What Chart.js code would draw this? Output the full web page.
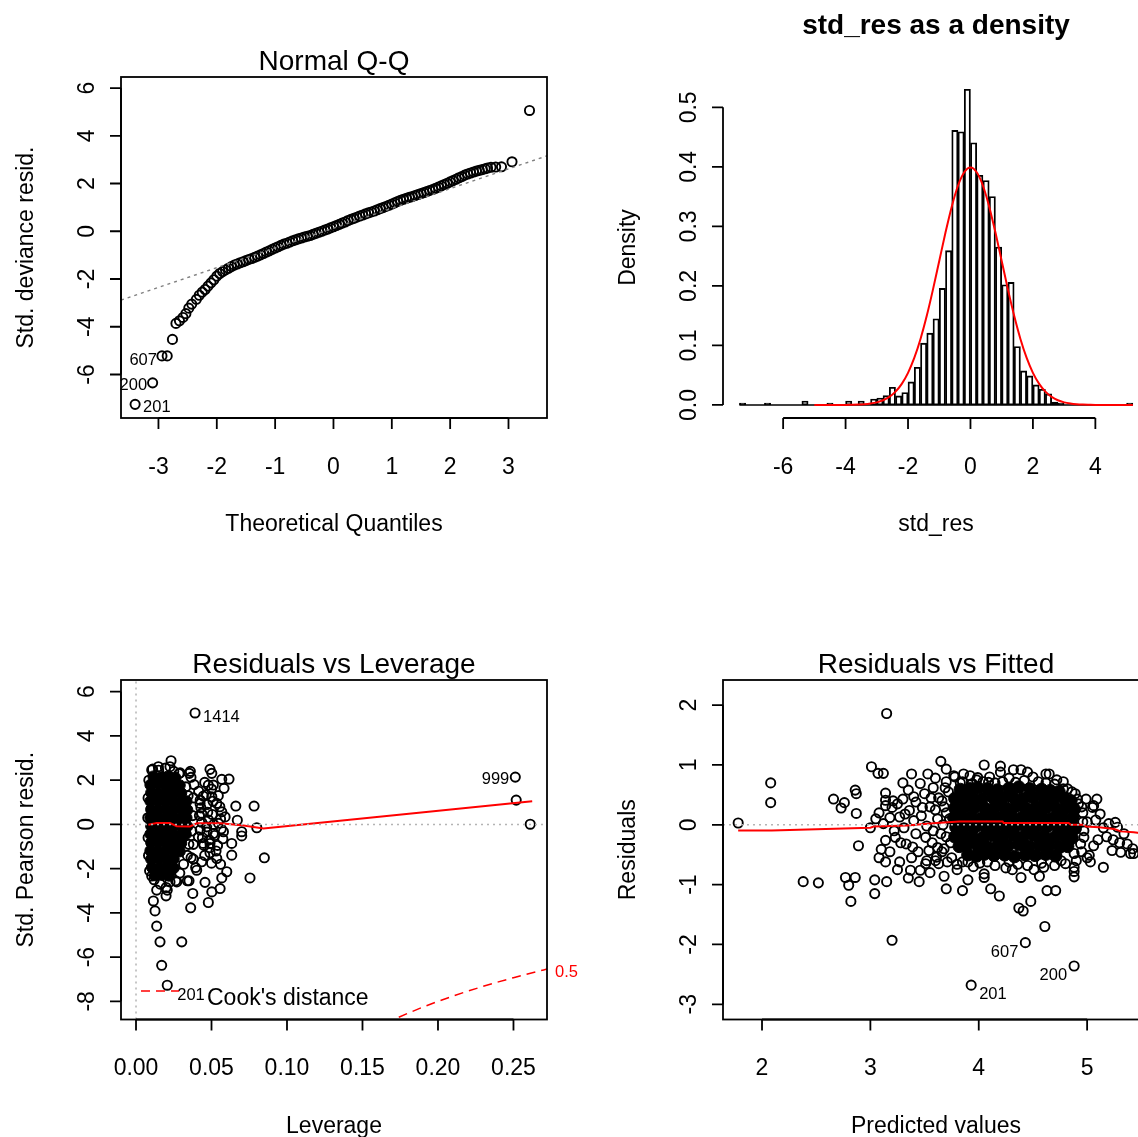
<!DOCTYPE html>
<html><head><meta charset="utf-8">
<script src="https://cdn.jsdelivr.net/npm/chart.js@4.4.1/dist/chart.umd.min.js"></script>
<style>
html,body{margin:0;padding:0;background:#fff;overflow:hidden;width:1138px;height:1137px;position:relative;}
canvas{position:absolute;display:block;}
</style></head><body>
<canvas id="c1" width="602" height="603" style="left:0;top:0"></canvas>
<canvas id="c2" width="602" height="603" style="left:602px;top:0"></canvas>
<canvas id="c3" width="602" height="604" style="left:0;top:603px"></canvas>
<canvas id="c4" width="602" height="604" style="left:602px;top:603px"></canvas>
<script>
// ================= DATA =================
// Panel 1: Normal Q-Q  [theoretical quantile, std. deviance resid.]
const qqPoints = [
[-3.40,-7.25],[-3.10,-6.35],[-2.94,-5.22],[-2.85,-5.22],[-2.76,-4.53],[-2.70,-3.86],[-2.64,-3.75],[-2.58,-3.61],[-2.53,-3.45],[-2.48,-3.22],[-2.43,-3.05],
[-2.35,-2.85],[-2.30,-2.68],[-2.25,-2.55],[-2.20,-2.44],[-2.15,-2.30],[-2.10,-2.16],[-2.05,-2.03],[-2.00,-1.88],[-1.95,-1.77],[-1.90,-1.69],
[-1.85,-1.62],[-1.80,-1.55],[-1.75,-1.48],[-1.70,-1.42],[-1.65,-1.37],[-1.60,-1.32],[-1.55,-1.28],[-1.50,-1.23],[-1.45,-1.18],[-1.40,-1.14],
[-1.35,-1.09],[-1.30,-1.04],[-1.25,-0.99],[-1.20,-0.93],[-1.15,-0.87],[-1.10,-0.82],[-1.05,-0.76],[-1.00,-0.70],[-0.95,-0.65],[-0.90,-0.59],
[-0.85,-0.54],[-0.80,-0.50],[-0.75,-0.45],[-0.70,-0.40],[-0.65,-0.36],[-0.60,-0.32],[-0.55,-0.28],[-0.50,-0.24],[-0.45,-0.21],[-0.40,-0.18],
[-0.35,-0.13],[-0.30,-0.09],[-0.25,-0.04],[-0.20,0.00],[-0.15,0.05],[-0.10,0.09],[-0.05,0.14],[0.00,0.19],[0.05,0.24],[0.10,0.29],
[0.15,0.34],[0.20,0.39],[0.25,0.45],[0.30,0.50],[0.35,0.54],[0.40,0.59],[0.45,0.64],[0.50,0.68],[0.55,0.73],[0.60,0.77],
[0.65,0.81],[0.70,0.85],[0.75,0.90],[0.80,0.95],[0.85,0.99],[0.90,1.04],[0.95,1.09],[1.00,1.14],[1.05,1.19],[1.10,1.25],
[1.15,1.30],[1.20,1.34],[1.25,1.38],[1.30,1.42],[1.35,1.45],[1.40,1.50],[1.45,1.54],[1.50,1.58],[1.55,1.62],[1.60,1.66],
[1.65,1.71],[1.70,1.75],[1.75,1.80],[1.80,1.85],[1.85,1.90],[1.90,1.96],[1.95,2.01],[2.00,2.07],[2.05,2.12],[2.10,2.18],
[2.15,2.24],[2.20,2.29],[2.25,2.35],[2.30,2.40],[2.35,2.44],[2.40,2.48],[2.45,2.52],[2.50,2.55],[2.55,2.58],[2.60,2.62],
[2.64,2.65],[2.70,2.68],[2.78,2.69],[2.88,2.70],[3.06,2.91],[3.36,5.06]
];
const qqRefLine = [[-3.642,-2.883],[3.66,3.16]];
const qqLabelPts = [[-2.94,-5.22],[-3.10,-6.35],[-3.40,-7.25]];
const qqLabelText = ['607','200','201'];
const qqTicksX = [-3,-2,-1,0,1,2,3];
const qqTicksY = [6,4,2,0,-2,-4,-6];

// Panel 2: histogram of std_res (density), breaks every 0.2 from -7.4
const histBreakStart = -7.4;
const histBinWidth = 0.2;
const histDensity = [
0.0033,0,0,0,0.0033,0,0,0,0,0,0.0067,0,0,0,0.0033,0,0,0.0067,0,0.0067,0,0.0100,
0.0117,0.0157,0.0297,0.0152,0.0208,0.0387,0.0634,0.1038,0.1207,0.1448,0.1958,0.2593,0.4613,0.4590,0.5303,
0.4405,0.3860,0.3771,0.3502,0.2654,0.2020,0.2060,0.0982,0.0572,0.0488,0.0337,0.0264,0.0185,0.0050,0.0033,
0,0,0,0,0,0,0,0,0,0,0.0033
];
const normCurveX = [-5.0,-4.8,-4.6,-4.4,-4.2,-4.0,-3.8,-3.6,-3.4,-3.2,-3.0,-2.8,-2.6,-2.4,-2.2,-2.0,-1.8,-1.6,-1.4,-1.2,-1.0,-0.8,-0.6,-0.4,-0.2,0.0,
0.2,0.4,0.6,0.8,1.0,1.2,1.4,1.6,1.8,2.0,2.2,2.4,2.6,2.8,3.0,3.2,3.4,3.6,3.8,4.0,4.2,4.4,4.6,4.8,5.0,5.2];
const normCurveY = [0.0000,0.0000,0.0000,0.0000,0.0001,0.0001,0.0003,0.0006,0.0012,0.0024,0.0044,0.0079,0.0136,0.0224,0.0355,0.0540,0.0790,0.1109,0.1497,0.1942,0.2420,0.2897,0.3332,0.3683,0.3910,0.3989,
0.3910,0.3683,0.3332,0.2897,0.2420,0.1942,0.1497,0.1109,0.0790,0.0540,0.0355,0.0224,0.0136,0.0079,0.0044,0.0024,0.0012,0.0006,0.0003,0.0001,0.0001,0.0000,0.0000,0.0000,0.0000,0.0000];
const histTicksX = [-6,-4,-2,0,2,4];
const histTicksY = [0,0.1,0.2,0.3,0.4,0.5];

// Panel 3: Residuals vs Leverage [leverage, std. Pearson resid.]
const levPoints = [
[0.0391,5.04],[0.2512,2.14],[0.2518,1.10],[0.2611,0.01],
[0.0104,2.46],[0.0148,2.61],[0.0232,2.88],[0.0225,2.61],[0.0292,2.33],[0.0353,2.31],[0.0364,2.13],[0.0490,2.49],[0.0502,2.31],[0.0568,2.04],
[0.0616,2.05],[0.0583,1.63],[0.0512,1.78],[0.0479,1.78],[0.0661,0.83],[0.0782,0.83],[0.0671,0.19],[0.0800,-0.15],[0.0700,-0.33],[0.0700,-0.52],
[0.0850,-1.51],[0.0755,-2.42],[0.0601,-2.14],[0.0568,-2.42],[0.0557,-2.90],[0.0502,-3.05],[0.0479,-3.53],[0.0457,-2.62],[0.0376,-3.12],[0.0362,-3.77],
[0.0340,-2.55],[0.0351,-2.55],[0.0303,-5.31],[0.0159,-5.31],[0.0170,-6.37],[0.0207,-7.27],[0.0137,-4.60],[0.0126,-3.91],[0.0115,-3.46],[0.0137,-2.97],
[0.0199,-3.23],[0.0207,-2.97],[0.0104,-2.33],[0.0263,-2.55],[0.0435,-1.69],[0.0380,-1.57],[0.0490,-1.28],[0.0535,-1.54],[0.0634,-1.39],[0.0634,-0.86],
[0.0579,-0.33],[0.0590,0.34],[0.0568,0.57],[0.0502,1.25],[0.0446,1.28],[0.0424,0.95],[0.0435,0.50],[0.0413,-0.56],[0.0446,-0.86],[0.0490,-0.86],
[0.0468,-0.11],[0.0512,-0.41],[0.0535,0.95],[0.0546,0.05],[0.0402,-2.07],
[0.0415,1.5],[0.0425,1.1],[0.0430,0.75],[0.0420,0.4],[0.0435,0.1],[0.0425,-0.25],[0.0440,-0.6],[0.0450,-0.95],[0.0455,1.9],[0.0465,1.35],
[0.0470,0.9],[0.0475,0.55],[0.0480,0.2],[0.0470,-0.35],[0.0485,-0.7],[0.0490,-1.05],[0.0500,1.6],[0.0510,1.05],[0.0505,0.45],[0.0515,0.0],
[0.0520,-0.5],[0.0530,-1.2],[0.0545,1.3],[0.0555,0.8],[0.0560,0.25],[0.0565,-0.2],[0.0575,-0.65],[0.0540,-0.95],[0.0385,1.8],[0.0380,1.2],
[0.0375,0.4],[0.0370,-0.3],[0.0380,-0.9],[0.0365,-1.5],[0.0360,2.4],[0.0395,-1.95],[0.0455,-1.4],[0.0500,-1.75],[0.0560,-1.8],
[0.0085,2.0],[0.0080,1.2],[0.0078,0.3],[0.0080,-0.6],[0.0083,-1.4],[0.0090,-2.1],[0.0110,2.5],[0.0150,2.45],[0.0195,2.55],[0.0250,2.4],
[0.0285,2.3],[0.0330,1.7],[0.0345,1.3],[0.0350,-0.9],[0.0340,-1.4],[0.0315,-1.8],[0.0290,-2.2],[0.0270,-2.6],[0.0160,-2.7],[0.0200,-2.85],
[0.0225,-2.6],[0.0120,-2.5]
];
// overlapping (dense) observations in the main leverage column
const levDense = [
[0.0115,2.17],[0.0165,2.13],[0.0215,2.18],[0.0260,2.12],
[0.0095,1.79],[0.0145,1.82],[0.0195,1.78],[0.0245,1.81],[0.0290,1.77],
[0.0100,1.43],[0.0150,1.40],[0.0200,1.44],[0.0250,1.41],[0.0300,1.42],
[0.0095,1.05],[0.0145,1.07],[0.0195,1.04],[0.0245,1.06],[0.0295,1.03],[0.0335,1.05],
[0.0100,0.68],[0.0150,0.66],[0.0200,0.69],[0.0250,0.67],[0.0300,0.70],[0.0340,0.66],
[0.0095,0.31],[0.0145,0.29],[0.0195,0.30],[0.0245,0.32],[0.0295,0.28],[0.0335,0.30],
[0.0100,-0.07],[0.0150,-0.05],[0.0200,-0.08],[0.0250,-0.06],[0.0300,-0.07],[0.0340,-0.09],
[0.0095,-0.44],[0.0145,-0.46],[0.0195,-0.43],[0.0245,-0.45],[0.0295,-0.47],[0.0330,-0.44],
[0.0100,-0.82],[0.0150,-0.80],[0.0200,-0.83],[0.0250,-0.81],[0.0300,-0.84],
[0.0095,-1.19],[0.0145,-1.21],[0.0195,-1.18],[0.0245,-1.20],[0.0290,-1.22],
[0.0100,-1.57],[0.0150,-1.55],[0.0200,-1.58],[0.0250,-1.56],
[0.0105,-1.94],[0.0155,-1.96],[0.0205,-1.93],[0.0250,-1.97],
[0.0125,-2.30],[0.0175,-2.28],[0.0220,-2.32]
];
const levSmooth = [[0.0082,-0.01],[0.0137,0.06],[0.0225,0.06],[0.0270,-0.08],[0.0358,-0.09],[0.0403,0.05],[0.0557,0.05],[0.0712,-0.05],[0.0844,-0.18],[0.2624,1.05]];
const cookContour = [[0.165,-9.00],[0.17,-8.84],[0.18,-8.54],[0.19,-8.26],[0.20,-8.00],[0.21,-7.76],[0.22,-7.53],[0.23,-7.32],[0.24,-7.12],[0.25,-6.93],[0.26,-6.75],[0.27,-6.58],[0.2722,-6.54]];
const levLabelPts = [[0.0391,5.04],[0.2512,2.14],[0.0207,-7.27]];
const levLabelText = ['1414','999','201'];
const levTicksX = [0,0.05,0.10,0.15,0.20,0.25];
const levTickLabelsX = ['0.00','0.05','0.10','0.15','0.20','0.25'];
const levTicksY = [6,4,2,0,-2,-4,-6,-8];

// Panel 4: Residuals vs Fitted [predicted value, residual]
const fitPoints = [
[1.78,0.03],[2.08,0.70],[2.08,0.37],[2.38,-0.95],[2.52,-0.97],[2.66,0.43],[2.73,0.28],[2.76,0.37],[2.86,0.58],[2.87,0.52],[2.87,0.19],[2.89,-0.35],
[2.77,-0.88],[2.86,-0.88],[2.80,-1.01],[2.82,-1.28],[3.01,0.97],[3.07,0.86],[3.12,0.86],[3.15,1.86],[3.20,-1.93],[3.04,-0.92],[3.04,-1.15],[3.15,-0.95],
[3.00,-0.05],[3.05,0.10],[3.14,0.53],[3.14,0.41],[3.14,0.32],[3.10,-0.41],[3.14,-0.62],[3.14,-0.26],[3.30,0.43],[3.40,0.47],[3.46,0.69],[3.35,-0.89],
[3.27,-0.62],[3.37,-0.76],[3.46,-0.76],[3.51,-0.65],[3.23,-0.21],[3.31,-0.05],[3.27,0.13],[3.36,0.24],[3.40,0.07],[3.48,0.29],[3.33,-0.32],[3.39,-0.37],
[3.42,-0.15],[3.51,-0.21],[3.54,-0.43],[3.20,0.29],[3.22,-0.10],
[3.08,0.20],[3.12,0.02],[3.18,0.12],[3.21,0.40],[3.25,0.35],[3.28,-0.30],[3.32,0.18],[3.35,0.58],[3.38,-0.55],[3.42,0.38],[3.44,-0.45],[3.47,0.15],
[3.50,0.52],[3.52,-0.02],[3.55,0.30],[3.57,-0.30],[3.58,0.62],[3.60,-0.60],[3.62,0.10],[3.63,0.45],[3.65,-0.15],[3.66,-0.45],[3.68,0.30],[3.70,0.72],
[3.08,-0.55],[3.18,-0.45],[3.25,-0.75],[3.45,-0.95],[3.55,-0.80],[3.30,0.70],[3.38,0.85],[3.53,0.85],[3.60,0.78],
[3.65,1.06],[3.70,0.93],[4.05,1.00],[4.20,0.98],[4.20,0.88],[4.32,0.92],[4.39,0.92],[4.45,0.88],[4.62,0.85],[4.65,0.85],[4.72,0.75],[4.82,0.60],
[4.89,0.52],[4.99,0.43],[5.09,0.43],[5.05,0.29],[5.12,0.18],[5.26,0.04],[5.28,-0.04],[5.34,-0.15],[5.37,-0.32],[5.42,-0.40],[5.40,-0.48],[5.43,-0.48],
[5.23,-0.43],[5.31,-0.46],[5.15,-0.71],[5.03,-0.62],[5.02,-0.51],[5.06,-0.35],[4.97,-0.21],[4.88,-0.71],[4.88,-0.87],[4.71,-1.10],[4.63,-1.10],[4.48,-1.28],
[4.37,-1.39],[4.41,-1.44],[4.61,-1.70],[4.43,-1.97],[4.88,-2.36],[3.93,-2.68],
[4.39,-0.88],[4.56,-0.86],[4.19,-1.19],[4.11,-1.07],[4.05,-0.88],[4.05,-0.82],[4.01,-0.64],[3.90,-0.92],[3.85,-1.10],[3.70,-1.07],[3.68,-0.86],[3.80,-0.75],
[4.25,-0.72],[4.31,-0.75],[4.51,-0.75],[4.60,-0.71],[4.88,-0.78],
[3.78,0.80],[3.85,0.72],[3.92,0.82],[3.98,0.75],[4.10,0.80],[4.15,0.70],[4.28,0.78],[4.50,0.80],[4.55,0.72],[4.70,0.68],[4.78,0.72],[4.92,0.35],
[4.96,0.20],[5.00,0.05],[5.08,0.08],[5.15,-0.05],[5.18,-0.20],[5.10,-0.25],[5.20,0.02],[5.24,-0.25],[5.30,-0.30],[4.95,-0.45],[4.90,-0.60],[4.80,-0.65],
[4.70,-0.68],[4.45,-0.68],[4.15,-0.68],[3.95,-0.70],[3.85,-0.62],[3.75,-0.55],[3.72,0.55],[3.74,-0.30],[3.73,0.10],
[3.52,-0.60],[3.61,-0.54],[3.63,-0.65],[3.77,0.82],[3.86,0.85],[3.99,0.79],[4.09,0.71],[4.78,0.60],[4.91,0.43],[5.06,0.32],[5.00,-0.55],
[3.69,0.62],[3.66,0.40],[3.70,0.20],[3.67,0.00],[3.70,-0.20],[3.68,-0.40],[3.71,-0.62],[3.60,0.25],[3.58,-0.10],[3.62,-0.38],[3.56,0.45],
[3.83,0.70],[3.94,0.69],[4.04,0.72],[4.22,0.72],[4.34,0.71],[4.42,0.74],[4.62,0.70],[4.86,0.55],[4.95,0.30],[4.96,0.05],[4.97,-0.10],[4.94,-0.32],
[4.88,-0.48],[4.76,-0.60],[4.58,-0.64],[4.36,-0.66],[4.28,-0.62],[4.08,-0.62],[3.90,-0.62],[3.80,-0.66]
];
// overlapping (dense) observations in the centre of the fitted cloud
const fitDense = [
[3.83,0.59],[3.92,0.60],[3.99,0.62],[4.08,0.60],[4.17,0.58],[4.28,0.61],[4.37,0.63],[4.47,0.60],[4.58,0.59],[4.66,0.57],[4.74,0.55],
[3.78,0.44],[3.85,0.46],[3.94,0.45],[4.03,0.43],[4.13,0.46],[4.22,0.45],[4.31,0.47],[4.41,0.44],[4.50,0.46],[4.60,0.45],[4.69,0.43],[4.79,0.44],[4.85,0.40],
[3.78,0.28],[3.87,0.30],[3.96,0.29],[4.06,0.27],[4.15,0.30],[4.24,0.29],[4.34,0.31],[4.43,0.28],[4.53,0.30],[4.62,0.29],[4.72,0.27],[4.81,0.29],[4.88,0.26],
[3.77,0.12],[3.84,0.14],[3.93,0.13],[4.02,0.11],[4.12,0.14],[4.21,0.13],[4.30,0.15],[4.40,0.12],[4.49,0.14],[4.58,0.13],[4.68,0.11],[4.77,0.13],[4.87,0.12],
[3.79,-0.04],[3.88,-0.02],[3.97,-0.03],[4.07,-0.05],[4.16,-0.02],[4.25,-0.03],[4.35,-0.01],[4.44,-0.04],[4.54,-0.02],[4.63,-0.03],[4.73,-0.05],[4.82,-0.03],[4.89,-0.06],
[3.78,-0.20],[3.85,-0.18],[3.94,-0.19],[4.04,-0.21],[4.13,-0.18],[4.22,-0.19],[4.32,-0.17],[4.41,-0.20],[4.51,-0.18],[4.60,-0.19],[4.70,-0.21],[4.79,-0.19],[4.86,-0.22],
[3.82,-0.36],[3.89,-0.34],[3.99,-0.35],[4.08,-0.37],[4.18,-0.34],[4.27,-0.35],[4.37,-0.33],[4.46,-0.36],[4.56,-0.34],[4.65,-0.35],[4.75,-0.37],[4.82,-0.36],
[3.90,-0.50],[3.98,-0.52],[4.05,-0.49],[4.14,-0.51],[4.24,-0.50],[4.33,-0.53],[4.43,-0.50],[4.52,-0.51],[4.62,-0.49],[4.71,-0.52]
];
const fitSmooth = [[1.78,-0.095],[2.09,-0.095],[3.00,-0.05],[3.03,-0.03],[3.34,-0.01],[3.61,0.03],[3.82,0.055],[4.22,0.055],[4.23,0.03],[4.83,0.03],[4.85,0.0],[4.97,0.0],[4.99,-0.03],[5.11,-0.04],[5.25,-0.07],[5.31,-0.11],[5.43,-0.125],[5.50,-0.14]];
const fitLabelPts = [[4.43,-1.97],[4.88,-2.36],[3.93,-2.68]];
const fitLabelText = ['607','200','201'];
const fitTicksX = [2,3,4,5];
const fitTicksY = [2,1,0,-1,-2,-3];

// ================= RENDERING =================
const FONT = '"Liberation Sans", Arial, Helvetica, sans-serif';
const pts = a => a.map(p => ({x:p[0], y:p[1]}));
const lbl = a => a.map(String);

const rDecor = {
  id: 'rDecor',
  afterDraw(chart, args, o) {
    const ctx = chart.ctx, ca = chart.chartArea, xs = chart.scales.x, ys = chart.scales.y;
    ctx.save();
    ctx.setLineDash([]); ctx.lineWidth = 1.8; ctx.strokeStyle = '#000'; ctx.fillStyle = '#000';
    if (o.box) ctx.strokeRect(ca.left, ca.top, ca.right - ca.left, ca.bottom - ca.top);
    const T = 11;
    const xp = o.xTicks.map(v => xs.getPixelForValue(v));
    const yp = o.yTicks.map(v => ys.getPixelForValue(v));
    ctx.beginPath();
    ctx.moveTo(xp[0], ca.bottom); ctx.lineTo(xp[xp.length - 1], ca.bottom);
    xp.forEach(p => { ctx.moveTo(p, ca.bottom); ctx.lineTo(p, ca.bottom + T); });
    ctx.moveTo(ca.left, yp[0]); ctx.lineTo(ca.left, yp[yp.length - 1]);
    yp.forEach(p => { ctx.moveTo(ca.left, p); ctx.lineTo(ca.left - T, p); });
    ctx.stroke();
    ctx.textAlign = 'center'; ctx.textBaseline = 'middle';
    ctx.font = '23px ' + FONT;
    xp.forEach((p, i) => ctx.fillText(o.xLabels[i], p, ca.bottom + 49.5));
    yp.forEach((p, i) => { ctx.save(); ctx.translate(ca.left - 33, p); ctx.rotate(-Math.PI / 2); ctx.fillText(o.yLabels[i], 0, 0); ctx.restore(); });
    ctx.fillText(o.xTitle, (ca.left + ca.right) / 2, ca.bottom + 107);
    ctx.save(); ctx.translate(ca.left - 94, (ca.top + ca.bottom) / 2); ctx.rotate(-Math.PI / 2); ctx.fillText(o.yTitle, 0, 0); ctx.restore();
    ctx.font = (o.titleBold ? 'bold ' : '') + '28px ' + FONT;
    ctx.fillText(o.title, (ca.left + ca.right) / 2, ca.top + o.titleDy);
    (o.notes || []).forEach(n => {
      ctx.font = (n.size || 16.5) + 'px ' + FONT;
      ctx.fillStyle = n.color || '#000';
      ctx.textAlign = n.align;
      ctx.fillText(n.text, xs.getPixelForValue(n.at[0]) + n.dx, ys.getPixelForValue(n.at[1]) + n.dy);
    });
    if (o.legend) {
      const L = o.legend;
      ctx.strokeStyle = L.color; ctx.lineWidth = 1.5; ctx.setLineDash([9, 6]);
      ctx.beginPath(); ctx.moveTo(ca.left + 20, ca.bottom - 28.5); ctx.lineTo(ca.left + 58, ca.bottom - 28.5); ctx.stroke();
      ctx.setLineDash([]);
      ctx.fillStyle = '#000'; ctx.font = '23px ' + FONT; ctx.textAlign = 'left';
      ctx.fillText(L.text, ca.left + 86, ca.bottom - 21);
    }
    ctx.restore();
  }
};

function makeOpts(range, pad, deco, xStep) {
  return {
    responsive: false, animation: false, devicePixelRatio: 1, events: [],
    layout: { padding: pad },
    scales: {
      x: { type: 'linear', display: false, offset: false, min: range[0], max: range[1], ticks: { stepSize: xStep } },
      y: { type: 'linear', display: false, min: range[2], max: range[3] }
    },
    plugins: { legend: { display: false }, tooltip: { enabled: false }, rDecor: deco }
  };
}
const padTop = { left: 121, right: 55, top: 77, bottom: 185 };
const padBot = { left: 121, right: 55, top: 77, bottom: 187.5 };
const ring = { showLine: false, pointRadius: 4.6, pointBorderWidth: 1.9, borderWidth: 1.9, pointBorderColor: '#000', borderColor: '#000', pointBackgroundColor: 'rgba(0,0,0,0)', backgroundColor: 'rgba(0,0,0,0)' };
const dense = r => ({ showLine: false, pointRadius: r, pointBorderWidth: 1, borderWidth: 1, pointBorderColor: '#000', borderColor: '#000', pointBackgroundColor: '#000', backgroundColor: '#000' });
const line = (color, w, dash) => ({ type: 'line', showLine: true, pointRadius: 0, borderColor: color, borderWidth: w, borderDash: dash || [], fill: false, tension: 0 });
const GRAY = '#b4b4b4';

// ---- Panel 1
const r1 = [-3.642, 3.66, -7.822, 6.462];
new Chart(document.getElementById('c1'), {
  type: 'scatter',
  data: { datasets: [
    Object.assign(line('#808080', 1.5, [3, 4]), { data: pts(qqRefLine), order: 0 }),
    Object.assign({}, ring, { data: pts(qqPoints), order: 1 })
  ]},
  options: makeOpts(r1, padTop, {
    box: true, xTicks: qqTicksX, xLabels: lbl(qqTicksX), yTicks: qqTicksY, yLabels: lbl(qqTicksY),
    xTitle: 'Theoretical Quantiles', yTitle: 'Std. deviance resid.', title: 'Normal Q-Q', titleDy: -15,
    notes: [
      { text: qqLabelText[0], at: qqLabelPts[0], dx: -5, dy: 5, align: 'right' },
      { text: qqLabelText[1], at: qqLabelPts[1], dx: -5.5, dy: 2.5, align: 'right' },
      { text: qqLabelText[2], at: qqLabelPts[2], dx: 8, dy: 3, align: 'left' }
    ]
  }, 1),
  plugins: [rDecor]
});

// ---- Panel 2
const r2 = [-7.926, 5.718, -0.0219, 0.551];
const histBars = histDensity.map((d, i) => ({ x: histBreakStart + (i + 0.5) * histBinWidth, y: d }));
const histEnds = [[histBreakStart, 0], [histBreakStart + histDensity.length * histBinWidth, 0]];
new Chart(document.getElementById('c2'), {
  type: 'bar',
  data: { datasets: [
    Object.assign(line('#ff0000', 2), { data: normCurveX.map((x, i) => ({ x: x, y: normCurveY[i] })), cubicInterpolationMode: 'monotone', order: 0 }),
    { type: 'bar', data: histBars, backgroundColor: 'rgba(0,0,0,0)', borderColor: '#000', borderWidth: 1.2, borderSkipped: false, barPercentage: 1, categoryPercentage: 1, order: 1 },
    Object.assign(line('#000', 1.5), { data: pts(histEnds), order: 2 })
  ]},
  options: makeOpts(r2, padTop, {
    box: false, xTicks: histTicksX, xLabels: lbl(histTicksX), yTicks: histTicksY, yLabels: histTicksY.map(v => v.toFixed(1)),
    xTitle: 'std_res', yTitle: 'Density', title: 'std_res as a density', titleBold: true, titleDy: -51
  }, 2),
  plugins: [rDecor]
});

// ---- Panel 3
const r3 = [-0.00994, 0.2722, -8.82, 6.53];
new Chart(document.getElementById('c3'), {
  type: 'scatter',
  data: { datasets: [
    Object.assign(line(GRAY, 1.5, [2, 4]), { data: pts([[r3[0], 0], [r3[1], 0]]), order: 0 }),
    Object.assign(line(GRAY, 1.5, [2, 4]), { data: pts([[0, r3[2]], [0, r3[3]]]), order: 0 }),
    Object.assign(line('#ff0000', 2), { data: pts(levSmooth), order: 1 }),
    Object.assign(line('#ff0000', 1.5, [9, 6]), { data: pts(cookContour), order: 1 }),
    Object.assign({}, ring, { data: pts(levPoints), order: 2 }),
    Object.assign(dense(5.5), { data: pts(levDense), order: 3 })
  ]},
  options: makeOpts(r3, padBot, {
    box: true, xTicks: levTicksX, xLabels: levTickLabelsX, yTicks: levTicksY, yLabels: lbl(levTicksY),
    xTitle: 'Leverage', yTitle: 'Std. Pearson resid.', title: 'Residuals vs Leverage', titleDy: -15,
    notes: [
      { text: levLabelText[0], at: levLabelPts[0], dx: 8, dy: 4, align: 'left' },
      { text: levLabelText[1], at: levLabelPts[1], dx: -6, dy: 2, align: 'right' },
      { text: levLabelText[2], at: levLabelPts[2], dx: 10, dy: 10, align: 'left' },
      { text: '0.5', at: cookContour[cookContour.length - 1], dx: 8, dy: 3, align: 'left', color: '#ff0000' }
    ],
    legend: { text: "Cook's distance", color: '#ff0000' }
  }, 0.05),
  plugins: [rDecor]
});

// ---- Panel 4
const r4 = [1.64, 5.571, -3.254, 2.42];
new Chart(document.getElementById('c4'), {
  type: 'scatter',
  data: { datasets: [
    Object.assign(line(GRAY, 1.5, [2, 4]), { data: pts([[r4[0], 0], [r4[1], 0]]), order: 0 }),
    Object.assign(line('#ff0000', 2), { data: pts(fitSmooth), order: 1 }),
    Object.assign({}, ring, { data: pts(fitPoints), order: 2 }),
    Object.assign(dense(6.3), { data: pts(fitDense), order: 3 })
  ]},
  options: makeOpts(r4, padBot, {
    box: true, xTicks: fitTicksX, xLabels: lbl(fitTicksX), yTicks: fitTicksY, yLabels: lbl(fitTicksY),
    xTitle: 'Predicted values', yTitle: 'Residuals', title: 'Residuals vs Fitted', titleDy: -15,
    notes: [
      { text: fitLabelText[0], at: fitLabelPts[0], dx: -7, dy: 10, align: 'right' },
      { text: fitLabelText[1], at: fitLabelPts[1], dx: -7, dy: 9, align: 'right' },
      { text: fitLabelText[2], at: fitLabelPts[2], dx: 8, dy: 9, align: 'left' }
    ]
  }, 1),
  plugins: [rDecor]
});
</script>
</body></html>
